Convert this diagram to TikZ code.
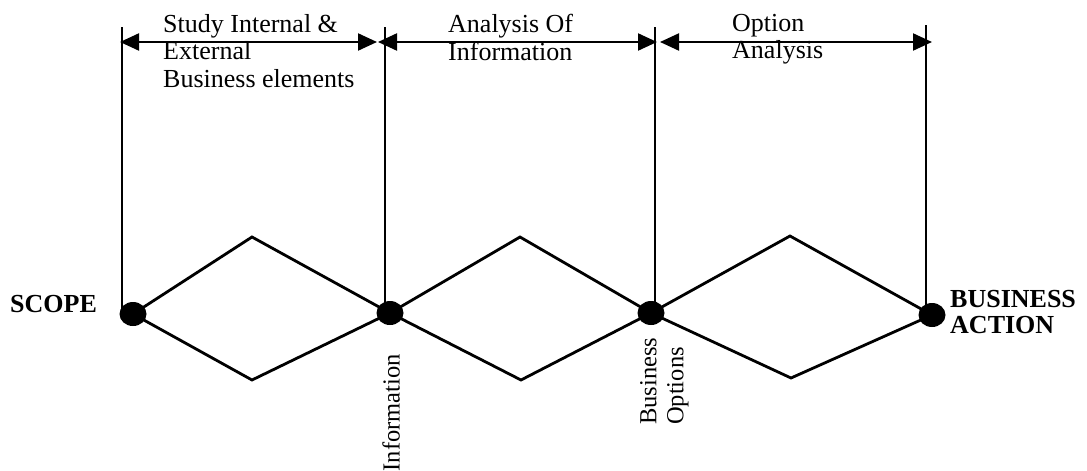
\documentclass[tikz,border=0pt]{standalone}
\usepackage{fontspec}
\setmainfont{Liberation Serif}
\usetikzlibrary{arrows.meta,shapes.geometric}
\tikzset{
  stage/.style={font=\fontsize{26}{27.5}\selectfont, align=left, inner sep=0pt, anchor=north west},
  result/.style={font=\fontsize{24.5}{27}\selectfont, align=left, inner sep=0pt, rotate=90},
  endlabel/.style={font=\fontsize{26}{26}\selectfont\bfseries, align=left, inner sep=0pt, anchor=base west},
  dot/.style={ellipse, fill=black, minimum width=27pt, minimum height=24pt, inner sep=0pt},
  wave/.style={line width=2.8pt, line join=miter},
  guide/.style={line width=1.3pt},
  span/.style={line width=2.2pt, {Triangle[length=19pt,width=17pt]}-{Triangle[length=19pt,width=17pt]}}
}
\begin{document}
\begin{tikzpicture}[x=1pt,y=-1pt]
\useasboundingbox (0,0) rectangle (1087,471);

% milestones on the main axis
\node[dot] (d1) at (133,314) {};
\node[dot] (d2) at (390,313) {};
\node[dot] (d3) at (651,313) {};
\node[dot] (d4) at (932,315) {};

% diamond apexes
\coordinate (t1) at (252,237);
\coordinate (b1) at (252,380);
\coordinate (t2) at (520,237);
\coordinate (b2) at (521,380);
\coordinate (t3) at (790,236);
\coordinate (b3) at (791,378);

% stage diamonds
\draw[wave] (d1.center) -- (t1) -- (d2.center) -- (b1) -- cycle;
\draw[wave] (d2.center) -- (t2) -- (d3.center) -- (b2) -- cycle;
\draw[wave] (d3.center) -- (t3) -- (d4.center) -- (b3) -- cycle;

% vertical guides above the milestones
\coordinate (v1) at (122,27);
\coordinate (v2) at (385,27);
\coordinate (v3) at (655,27);
\coordinate (v4) at (926,25);
\draw[guide] (v1) -- (v1 |- d1.center);
\draw[guide] (v2) -- (v2 |- d2.center);
\draw[guide] (v3) -- (v3 |- d3.center);
\draw[guide] (v4) -- (v4 |- d4.center);

% stage spans
\coordinate (a1l) at (120,42);
\coordinate (a1r) at (377,42);
\coordinate (a2l) at (378,42);
\coordinate (a2r) at (657,42);
\coordinate (a3l) at (660,42);
\coordinate (a3r) at (932,42);
\draw[span] (a1l) -- (a1r);
\draw[span] (a2l) -- (a2r);
\draw[span] (a3l) -- (a3r);

% stage titles
\node[stage] (s1) at (163,14) {Study Internal \&\\External\\Business elements};
\node[stage] (s2) at (448,14) {Analysis Of\\Information};
\node[stage] (s3) at (732,14) {Option\\Analysis};

% end labels
\node[endlabel] (scope) at (10,312) {SCOPE};
\node[endlabel] (action) at (950,333) {BUSINESS\\ACTION};

% intermediate results
\node[result, anchor=east] (info) at (391,354) {Information};
\node[result, anchor=north west] (opts) at (640,425) {Business\\Options};
\end{tikzpicture}
\end{document}
